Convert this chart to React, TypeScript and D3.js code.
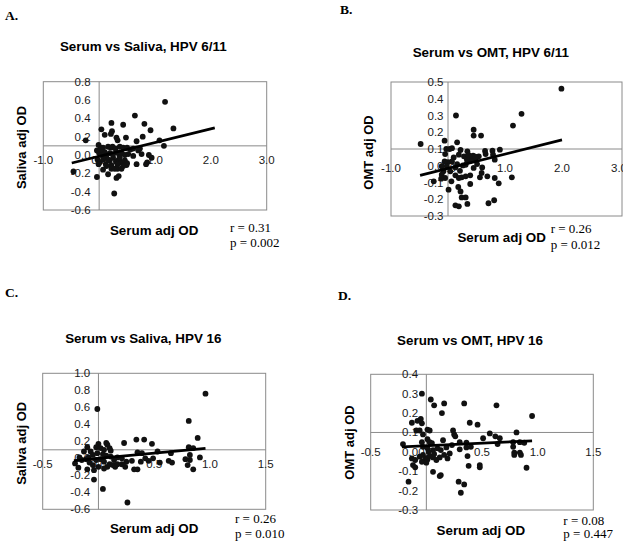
import React from 'react';
import * as d3 from 'd3';

// ---------- data ----------
const pointsA: [number, number][] = [
  [1.18,0.58],[1.33,0.29],[0.64,0.43],[0.81,0.34],[0.92,0.27],[0.22,0.35],[0.43,0.33],[0.04,0.28],[0.23,0.26],[0.21,0.23],
  [0.10,0.22],[0.31,0.19],[0.33,0.16],[0.48,0.19],[0.67,0.15],[0.78,0.20],[-0.24,0.16],[1.08,0.16],[1.16,0.10],[-0.01,0.11],
  [0.03,0.08],[0.07,0.08],[0.16,0.09],[0.21,0.08],[0.24,0.09],[0.29,0.07],[0.37,0.09],[0.43,0.08],[0.50,0.08],[0.56,0.06],
  [0.61,0.07],[0.73,0.07],[0.70,0.05],[-0.04,0.05],[0.00,0.02],[0.04,0.00],[0.10,0.03],[0.13,0.00],[0.19,0.02],[0.25,0.01],
  [0.31,0.03],[0.36,0.00],[0.40,0.02],[0.46,0.00],[0.52,0.01],[0.61,-0.01],[0.76,0.01],[0.89,0.00],[0.94,-0.03],[-0.03,-0.05],
  [0.01,-0.08],[0.07,-0.05],[0.13,-0.03],[0.19,-0.06],[0.25,-0.03],[0.30,-0.07],[0.35,-0.05],[0.40,-0.08],[0.46,-0.06],[0.50,-0.09],
  [-0.01,-0.10],[0.12,-0.10],[0.22,-0.11],[0.33,-0.10],[0.49,-0.11],[0.67,-0.10],[0.84,-0.10],[0.86,-0.08],[-0.46,-0.18],[-0.04,-0.24],
  [0.16,-0.21],[0.22,-0.15],[0.28,-0.15],[0.33,-0.15],[0.40,-0.15],[0.31,-0.25],[0.35,-0.23],[0.27,-0.42],[0.07,-0.16],[0.13,-0.12],
  [0.43,-0.12],[0.16,-0.05],[0.37,-0.03],[0.03,0.06],
];
const pointsB: [number, number][] = [
  [1.99,0.46],[1.29,0.31],[1.14,0.24],[0.14,0.30],[0.45,0.215],[0.45,0.18],[0.58,0.18],[-0.06,0.15],[0.16,0.14],[-0.48,0.13],
  [-0.03,0.10],[0.03,0.10],[0.07,0.105],[0.22,0.094],[0.34,0.086],[0.65,0.088],[0.78,0.09],[0.91,0.096],[0.66,0.07],[0.79,0.066],
  [0.82,0.036],[-0.05,0.07],[0.10,0.05],[0.19,0.066],[0.28,0.056],[0.36,0.046],[0.39,0.056],[0.45,0.05],[0.49,0.042],[0.54,0.056],
  [0.34,0.026],[0.39,0.03],[0.00,0.022],[-0.06,0.026],[0.16,0.01],[0.26,0.002],[0.45,-0.013],[0.60,-0.01],[-0.02,-0.003],[0.13,-0.01],
  [-0.08,-0.033],[0.04,-0.033],[-0.11,-0.053],[-0.05,-0.073],[0.13,-0.057],[0.19,-0.073],[0.24,-0.069],[0.31,-0.063],[0.39,-0.057],[0.56,-0.069],
  [0.69,-0.063],[0.59,-0.043],[0.82,-0.073],[1.12,-0.069],[-0.25,-0.093],[0.89,-0.105],[0.01,-0.143],[0.39,-0.109],[0.18,-0.127],[0.22,-0.153],
  [0.24,-0.189],[0.31,-0.189],[0.34,-0.228],[0.13,-0.236],[0.19,-0.242],[0.71,-0.224],[0.81,-0.206],[0.06,-0.093],[-0.12,-0.077],[0.07,0.026],
  [0.31,0.006],[0.51,0.01],[-0.11,-0.003],[0.21,-0.03],[0.33,0.04],[0.38,0.045],[0.42,0.04],[0.44,0.06],[0.48,0.055],[0.36,0.065],
];
const pointsC: [number, number][] = [
  [0.96,0.76],[0.81,0.44],[0.89,0.24],[-0.01,0.58],[-0.04,-0.25],[0.04,-0.36],[0.26,-0.52],[0.23,0.18],[0.34,0.22],[0.41,0.22],
  [0.48,0.17],[0.81,0.13],[0.85,0.12],[0.07,0.18],[0.08,0.16],[0.00,0.17],[-0.02,0.13],[-0.10,0.13],[-0.13,0.08],[-0.07,0.08],
  [0.02,0.12],[0.05,0.10],[0.10,0.12],[0.11,0.09],[-0.05,0.04],[-0.01,0.06],[0.04,0.05],[0.07,0.03],[0.11,0.02],[0.17,0.01],
  [0.21,0.00],[0.35,0.07],[0.39,0.06],[0.53,0.08],[0.65,0.06],[0.82,0.04],[-0.21,-0.06],[-0.15,-0.02],[-0.17,0.01],[-0.11,-0.01],
  [-0.08,-0.05],[-0.05,-0.08],[-0.02,-0.02],[0.02,-0.01],[0.05,-0.04],[0.08,-0.10],[0.05,-0.12],[0.10,-0.07],[0.14,-0.02],[0.15,-0.10],
  [0.13,-0.08],[0.17,-0.07],[0.24,-0.10],[0.25,-0.04],[0.30,-0.03],[0.32,-0.13],[0.35,-0.13],[0.38,-0.04],[0.42,0.00],[0.45,-0.03],
  [0.49,0.00],[0.55,-0.05],[0.63,-0.03],[0.66,-0.05],[0.78,-0.01],[0.80,-0.08],[0.85,-0.13],[0.91,0.01],[0.82,-0.02],[-0.10,-0.13],
  [-0.18,-0.11],[0.00,-0.10],[-0.04,-0.14],[-0.09,0.01],[0.21,-0.07],
];
const pointsD: [number, number][] = [
  [-0.04,0.30],[0.04,0.27],[0.07,0.24],[0.16,0.25],[0.14,0.20],[0.34,0.25],[0.63,0.24],[0.95,0.185],[-0.13,0.15],[-0.08,0.16],
  [-0.05,0.17],[-0.04,0.147],[0.39,0.15],[0.46,0.14],[-0.09,0.11],[-0.06,0.11],[0.01,0.115],[0.03,0.11],[-0.03,0.09],[0.24,0.11],
  [0.25,0.09],[0.26,0.08],[0.57,0.095],[0.62,0.08],[0.66,0.07],[0.81,0.10],[-0.21,0.04],[-0.04,0.05],[0.01,0.065],[0.03,0.05],
  [0.05,0.045],[0.15,0.06],[0.23,0.035],[0.30,0.05],[0.36,0.047],[0.36,0.023],[0.40,0.026],[0.51,0.07],[0.64,0.04],[0.78,0.05],
  [0.84,0.05],[0.88,0.047],[0.78,0.026],[-0.03,0.026],[0.01,0.018],[0.06,0.009],[0.10,0.018],[0.13,0.009],[0.18,0.023],[0.30,0.013],
  [0.79,-0.004],[0.84,-0.004],[0.85,-0.016],[0.79,-0.016],[-0.13,-0.034],[-0.10,-0.042],[-0.06,-0.025],[-0.03,-0.016],[-0.01,-0.034],[0.01,-0.039],
  [0.03,-0.022],[0.06,-0.029],[0.09,-0.042],[0.12,-0.029],[0.16,-0.016],[0.19,-0.034],[0.21,-0.008],[-0.04,-0.051],[0.00,-0.056],[-0.12,-0.068],
  [-0.10,-0.08],[0.06,-0.103],[0.13,-0.12],[0.12,-0.125],[0.38,-0.072],[0.48,-0.068],[0.48,-0.08],[0.37,-0.022],[0.90,-0.082],[-0.16,-0.154],
  [0.29,-0.154],[0.34,-0.168],[0.31,-0.211],[0.02,0.0],[0.07,-0.011],
];

// regression lines (endpoints, in data units)
const trendA: [number, number][] = [[-0.49, -0.087], [2.07, 0.295]];
const trendB: [number, number][] = [[-0.49, -0.057], [2.0, 0.154]];
const trendC: [number, number][] = [[-0.22, -0.027], [0.96, 0.118]];
const trendD: [number, number][] = [[-0.22, 0.026], [0.95, 0.057]];

// tick labels
const xTicksWide = ['-1.0', '0.0', '1.0', '2.0', '3.0'];
const xTicksNarrow = ['-0.5', '0.0', '0.5', '1.0', '1.5'];
const yTicksA = ['-0.6', '-0.4', '-0.2', '0.0', '0.2', '0.4', '0.6', '0.8'];
const yTicksB = ['-0.3', '-0.2', '-0.1', '0.0', '0.1', '0.2', '0.3', '0.4', '0.5'];
const yTicksC = ['-0.6', '-0.4', '-0.2', '0.0', '0.2', '0.4', '0.6', '0.8', '1.0'];
const yTicksD = ['-0.3', '-0.2', '-0.1', '0.0', '0.1', '0.2', '0.3', '0.4'];

const titles = ['Serum vs Saliva, HPV 6/11', 'Serum vs OMT, HPV 6/11', 'Serum vs Saliva, HPV 16', 'Serum vs OMT, HPV 16'];
const yTitles = ['Saliva adj OD', 'OMT adj OD', 'Saliva adj OD', 'OMT adj OD'];
const letters = ['A.', 'B.', 'C.', 'D.'];
const statsR = ['r = 0.31', 'r = 0.26', 'r = 0.26', 'r = 0.08'];
const statsP = ['p = 0.002', 'p = 0.012', 'p = 0.010', 'p = 0.447'];
const axisCross = [0.1, 0.1, 0.1, 0.1];

// ---------- layout ----------
const layouts = [
  { plot: [43.3, 266.7, 81.7, 210], xr: 266.7, letter: [5, 20], title: [143.3, 50.7], yT: [26, 147.5], xT: [154.2, 235], st: [230, 232.3, 246.7], gap: 8.6, dy: 18 },
  { plot: [391, 622, 82, 216], xr: 619, letter: [340, 14], title: [490.8, 57.3], yT: [373, 152.5], xT: [501.7, 241.7], st: [550.7, 233.3, 249.3], gap: 4.5, dy: 22.6 },
  { plot: [42.7, 265.7, 373.3, 509.3], xr: 265.7, letter: [5, 297], title: [143.3, 342.7], yT: [26, 443.3], xT: [154.2, 533.3], st: [235, 523.3, 538.3], gap: 8.3, dy: 18.3 },
  { plot: [370.7, 593.3, 374.3, 510], xr: 593.3, letter: [338, 300], title: [470, 345.3], yT: [354, 442.5], xT: [480.8, 535], st: [563.3, 525, 538.3], gap: 8.3, dy: 23.3 },
];

const panelData = [
  { pts: pointsA, trend: trendA, xt: xTicksWide, yt: yTicksA },
  { pts: pointsB, trend: trendB, xt: xTicksWide, yt: yTicksB },
  { pts: pointsC, trend: trendC, xt: xTicksNarrow, yt: yTicksC },
  { pts: pointsD, trend: trendD, xt: xTicksNarrow, yt: yTicksD },
];

const SANS = '"Liberation Sans", Arial, sans-serif';
const SERIF = '"Liberation Serif", "Times New Roman", serif';
const GRID = '#8a8a8a';

function Panel({ i }: { i: number }) {
  const L = layouts[i];
  const D = panelData[i];
  const [l, r, t, b] = L.plot;
  const xVals = D.xt.map(Number);
  const yVals = D.yt.map(Number);
  const x = d3.scaleLinear().domain([xVals[0], xVals[xVals.length - 1]]).range([l, L.xr]);
  const y = d3.scaleLinear().domain([yVals[0], yVals[yVals.length - 1]]).range([b, t]);
  const line = d3.line<[number, number]>().x(d => x(d[0])).y(d => y(d[1]));
  const cross = axisCross[i];
  return (
    <g>
      <text x={L.letter[0]} y={L.letter[1]} fontFamily={SERIF} fontWeight="bold" fontSize={13.5}>{letters[i]}</text>
      <text x={L.title[0]} y={L.title[1]} textAnchor="middle" fontFamily={SANS} fontWeight="bold" fontSize={13.4}>{titles[i]}</text>
      <rect x={l} y={t} width={r - l} height={b - t} fill="none" stroke={GRID} strokeWidth={1} />
      <line x1={x(0)} x2={x(0)} y1={t} y2={b} stroke={GRID} strokeWidth={1} />
      <line x1={l} x2={r} y1={y(cross)} y2={y(cross)} stroke={GRID} strokeWidth={1} />
      {D.yt.map((lab, k) => (
        <text key={'y' + k} x={x(0) - L.gap} y={y(yVals[k])} dy="0.35em" textAnchor="end" fontFamily={SANS} fontSize={11.5} fill="#1a1a1a">{lab}</text>
      ))}
      {D.xt.map((lab, k) => (
        <text key={'x' + k} x={x(xVals[k])} y={y(cross) + L.dy} textAnchor="middle" fontFamily={SANS} fontSize={11.5} fill="#1a1a1a">{lab}</text>
      ))}
      {D.pts.map((p, k) => (
        <circle key={'p' + k} cx={x(p[0])} cy={y(p[1])} r={2.9} fill="#111" />
      ))}
      <path d={line(D.trend) || ''} stroke="#000" strokeWidth={2.8} fill="none" />
      <text transform={`translate(${L.yT[0]},${L.yT[1]}) rotate(-90)`} textAnchor="middle" fontFamily={SANS} fontWeight="bold" fontSize={13}>{yTitles[i]}</text>
      <text x={L.xT[0]} y={L.xT[1]} textAnchor="middle" fontFamily={SANS} fontWeight="bold" fontSize={13.4}>Serum adj OD</text>
      <text x={L.st[0]} y={L.st[1]} fontFamily={SERIF} fontSize={13}>{statsR[i]}</text>
      <text x={L.st[0]} y={L.st[2]} fontFamily={SERIF} fontSize={13}>{statsP[i]}</text>
    </g>
  );
}

export default function App() {
  return (
    <svg width={623} height={547} style={{ position: 'absolute', left: 0, top: 0, background: '#fff' }}>
      <rect x={0} y={0} width={623} height={547} fill="#fff" />
      {[0, 1, 2, 3].map(i => <Panel key={i} i={i} />)}
    </svg>
  );
}
